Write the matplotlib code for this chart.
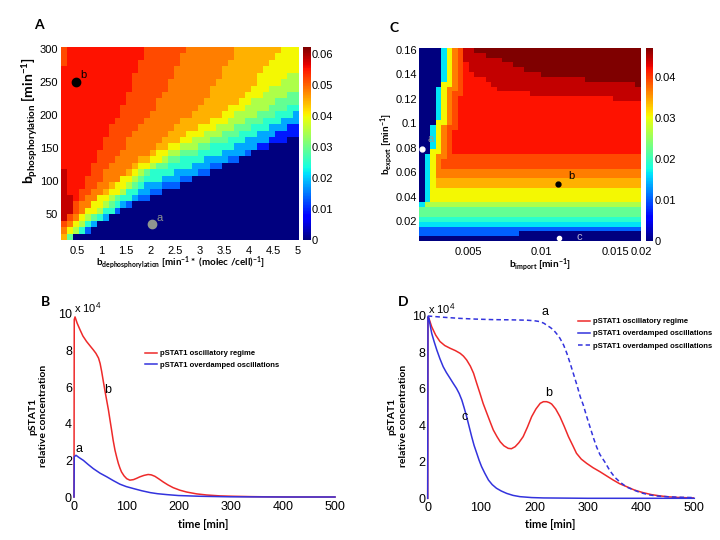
import numpy as np
import matplotlib
matplotlib.use('Agg')
import matplotlib.pyplot as plt

plt.rcParams['font.family'] = ['Liberation Sans', 'DejaVu Sans']
plt.rcParams['mathtext.fontset'] = 'custom'
plt.rcParams['mathtext.rm'] = 'Lato'
plt.rcParams['mathtext.bf'] = 'Lato:bold'
plt.rcParams['mathtext.it'] = 'Lato:italic'

# ---------------- data ----------------
# Heatmap cells are stored row by row (top row first) as run-length strings:
# each run = one level character followed by a two-digit count of cells.
A_LEVEL_VALUES = {'0': 0.0, '1': 0.005, '2': 0.0093, '3': 0.0136, '4': 0.018, '5': 0.0217,
                  '6': 0.0248, '7': 0.0291, '8': 0.0347, '9': 0.040, 'a': 0.0446, 'b': 0.048,
                  'c': 0.0515, 'd': 0.0552, 'e': 0.0583, 'f': 0.062}
A_ROWS = [
    'c01d13c07b08a08903', 'c01d13c06b09a07904', 'c01d12c07b08a07905',
    'd13c06b08a07906', 'd12c07b08a06905802', 'd12c06b08a07904803',
    'd12c06b07a07903805', 'd11c06b08a06903804702', 'd11c05b08a06902804704',
    'd10c06b07a05903804703602', 'd10c05b07a05902804703603401', 'd09c05b06a05903803703603403',
    'd08c05b06a04903803703603403202', 'd08c04b06a03903803703603403204',
    'd07c04b06a03902803703603404203002', 'd07c04b05a02902803702604404202005',
    'd06c04b05a01902802703604404301008', 'd06c03b04a02902801702604404302010',
    'd05c03b04a01902801702604403302013', 'e01d04c02b04a01901801701604404302015',
    'e01d03c03b03902801701603403302018', 'e01d03c02b02a01902801701601403303020',
    'e01d02c02b02a01902801602402302023', 'e02d01c01b02902801701602401302025',
    'e02c01b02902801701601401301028', 'e02c01b01902801602301030',
    'e01c01b01901801701601401032', 'c01b01901801601401034',
    'b01901801601301035', 'a01701038',
]
A_XTICKS = [0.5, 1, 1.5, 2, 2.5, 3, 3.5, 4, 4.5, 5]
A_XTICKLABELS = ['0.5', '1', '1.5', '2', '2.5', '3', '3.5', '4', '4.5', '5']
A_YTICKS = [50, 100, 150, 200, 250, 300]
A_CBTICKS = [0, 0.01, 0.02, 0.03, 0.04, 0.05, 0.06]
A_CBLABELS = ['0', '0.01', '0.02', '0.03', '0.04', '0.05', '0.06']
A_POINT_B = (0.48, 250)
A_POINT_A = (2.02, 35)

C_LEVEL_VALUES = {'0': 0.0, '1': 0.0038, '2': 0.0071, '3': 0.0104, '4': 0.0137, '5': 0.0165,
                  '6': 0.0188, '7': 0.0221, '8': 0.0264, '9': 0.0304, 'a': 0.0339, 'b': 0.0365,
                  'c': 0.0391, 'd': 0.0419, 'e': 0.0443, 'f': 0.0471}
C_ROWS = [
    '004501901b01c01e02f30', '004501901b01c01e04f28', '004501901b01c01e07f25',
    '004501901b01c01d01e08f23', '004501901b01c01d01e10f21', '004501901b01c01d02e12f18',
    '004501901b01c01d04e18f10', '004902b01c01d05e26f01', '003501901b02c01d06e26',
    '003501901b01c02d12e20', '003501901b01c01d28e05', '003501901b01c01d33',
    '003501901b01c01d33', '003501901b01c01d33', '003501901b01c01d33',
    '003902b01c01d33', '002501901b01c02d33', '002501901b01c01d34',
    '002501901b01c01d34', '002501901b01c01d34', '002501901b01c01d34',
    '002902b01c01d34', '001501901b02c35', '001501901b01c36',
    '001501901b01c36', '001501901b37', '001501901b37',
    '001501901a37', '001501901a37', '001501938',
    '001501938', '001501938', '501839',
    '740', '740', '640',
    '540', '340', '318022',
    '040',
]
C_XTICKS = [0.005, 0.01, 0.015, 0.01677]
C_XTICKLABELS = ['0.005', '0.01', '0.015', '0.02']
C_YTICKS = [0.02, 0.04, 0.06, 0.08, 0.1, 0.12, 0.14, 0.16]
C_YTICKLABELS = ['0.02', '0.04', '0.06', '0.08', '0.1', '0.12', '0.14', '0.16']
C_CBTICKS = [0, 0.01, 0.02, 0.03, 0.04]
C_CBLABELS = ['0', '0.01', '0.02', '0.03', '0.04']
C_POINT_A = (0.00185, 0.079)
C_POINT_B = (0.01112, 0.0503)
C_POINT_C = (0.01119, 0.0062)

# Panel B (time in min, pSTAT1 in units of 1e4)
b_red_t = [0, 0.5, 2, 6, 11.5, 17, 24, 31, 37, 42, 47, 50, 53, 56, 59, 62.5, 66, 69, 72, 75, 78.5, 82, 85,
           88, 91, 96, 101, 107, 114, 120, 126, 134, 142, 148, 155, 163, 171, 180, 190, 203, 216, 235, 254,
           280, 305, 340, 369, 420, 500]
b_red_y = [0, 9.7, 9.84, 9.5, 9.14, 8.8, 8.5, 8.25, 8.04, 7.85, 7.59, 7.3, 6.86, 6.35, 5.85, 5.3, 4.75, 4.2,
           3.66, 3.1, 2.56, 2.15, 1.83, 1.58, 1.37, 1.15, 1.0, 0.92, 0.95, 1.02, 1.1, 1.18, 1.23, 1.21, 1.13,
           0.98, 0.82, 0.66, 0.51, 0.37, 0.27, 0.17, 0.11, 0.06, 0.04, 0.02, 0.01, 0.0, 0.0]
b_blue_t = [0, 0.5, 3.8, 10, 18, 27, 37, 50, 63, 75, 88, 100, 114, 130, 146, 160, 178, 200, 241, 300, 400, 500]
b_blue_y = [0, 2.2, 2.28, 2.15, 2.0, 1.78, 1.55, 1.3, 1.1, 0.9, 0.7, 0.57, 0.46, 0.34, 0.24, 0.18, 0.13, 0.08,
            0.04, 0.01, 0.0, 0.0]

# Panel D
d_red_t = [0, 0.5, 2, 7.5, 15, 23, 32, 42, 52, 61, 67, 73, 80, 86, 92, 98, 104, 111, 117, 123, 130, 136, 143,
           151, 157, 164, 171, 179, 187, 195, 203, 211, 217, 223, 228, 232.5, 240, 248, 256, 264, 272, 279,
           288, 298, 310, 323, 336, 348, 360, 373, 388, 404, 420, 436, 452, 467, 498]
d_red_y = [0, 9.95, 9.9, 9.41, 8.95, 8.6, 8.38, 8.23, 8.1, 7.95, 7.8, 7.59, 7.25, 6.86, 6.3, 5.76, 5.2, 4.66,
           4.2, 3.75, 3.38, 3.1, 2.88, 2.74, 2.72, 2.83, 3.05, 3.38, 3.9, 4.48, 4.9, 5.21, 5.3, 5.3, 5.25,
           5.17, 4.9, 4.48, 3.95, 3.38, 2.9, 2.47, 2.15, 1.92, 1.68, 1.46, 1.22, 1.0, 0.8, 0.64, 0.45, 0.31,
           0.2, 0.13, 0.08, 0.05, 0.02]
d_blue_t = [0, 0.5, 2, 7.5, 12, 17, 23, 29, 35, 42, 48, 54, 59, 64, 68.5, 73, 78, 82.5, 87, 92, 96.5, 101,
            107, 114, 121, 129, 138, 148, 160, 173, 195, 217, 260, 300, 500]
d_blue_y = [0, 9.95, 9.9, 9.05, 8.6, 8.14, 7.65, 7.22, 6.9, 6.58, 6.3, 6.03, 5.75, 5.39, 4.95, 4.48, 3.9, 3.38,
            2.9, 2.47, 2.08, 1.74, 1.38, 1.0, 0.75, 0.55, 0.4, 0.27, 0.16, 0.09, 0.04, 0.02, 0.01, 0.0, 0.0]
d_dash_t = [0, 30, 60, 90, 123, 155, 186, 200, 211, 218, 223, 230, 236, 242, 248, 255, 261, 267, 273, 280,
            286, 292, 298, 304, 311, 317, 323, 332, 342, 351, 361, 373, 386, 400, 417, 432, 448, 470, 498]
d_dash_y = [10.0, 9.93, 9.87, 9.83, 9.8, 9.79, 9.77, 9.74, 9.69, 9.6, 9.5, 9.37, 9.23, 9.02, 8.78, 8.4, 7.95,
            7.42, 6.86, 6.2, 5.58, 5.1, 4.5, 3.95, 3.3, 2.8, 2.4, 2.0, 1.5, 1.15, 0.88, 0.62, 0.46, 0.3, 0.18,
            0.12, 0.09, 0.06, 0.04]
LINE_XTICKS = [0, 100, 200, 300, 400, 500]
LINE_YTICKS = [0, 2, 4, 6, 8, 10]
LEGEND_B = ['pSTAT1 oscillatory regime', 'pSTAT1 overdamped oscillations']
LEGEND_D = ['pSTAT1 oscillatory regime', 'pSTAT1 overdamped oscillations', 'pSTAT1 overdamped oscillations']


def decode(rows, values):
    grid = []
    for s in rows:
        cells = ''.join(s[k] * int(s[k + 1:k + 3]) for k in range(0, len(s), 3))
        grid.append([values[c] for c in cells])
    return np.array(grid)


gridA = decode(A_ROWS, A_LEVEL_VALUES)
gridC = decode(C_ROWS, C_LEVEL_VALUES)
A_VMAX = A_LEVEL_VALUES['f']
C_VMAX = C_LEVEL_VALUES['f']

W, H = 720, 540
def box(l, t, r, b):
    return [l / W, 1 - b / H, (r - l) / W, (b - t) / H]

fig = plt.figure(figsize=(7.2, 5.4), dpi=100)

# ---------------- Panel A ----------------
axA = fig.add_axes(box(61, 47, 299, 240))
imA = axA.imshow(gridA, cmap='jet', vmin=0, vmax=A_VMAX, aspect='auto',
                 extent=[0.174, 5.02, 10.6, 303], interpolation='nearest')
axA.set_xlim(0.174, 5.02); axA.set_ylim(10.6, 303)
axA.set_xticks(A_XTICKS); axA.set_xticklabels(A_XTICKLABELS)
axA.set_yticks(A_YTICKS)
axA.tick_params(length=0, labelsize=8, pad=2)
axA.tick_params(axis='x', pad=4)
for sp in axA.spines.values(): sp.set_visible(False)
axA.plot([A_POINT_B[0]], [A_POINT_B[1]], 'o', color='black', ms=6)
axA.text(A_POINT_B[0] + 0.08, A_POINT_B[1] + 6, 'b', fontsize=8, color='black')
axA.plot([A_POINT_A[0]], [A_POINT_A[1]], 'o', color='#8f968f', ms=6)
axA.text(A_POINT_A[0] + 0.1, A_POINT_A[1] + 5, 'a', fontsize=8, color='#8f968f')
caxA = fig.add_axes(box(303, 47.3, 310.7, 240))
cbA = fig.colorbar(imA, cax=caxA, ticks=A_CBTICKS)
cbA.ax.set_yticklabels(A_CBLABELS)
cbA.ax.tick_params(length=0, labelsize=8, pad=1)
cbA.outline.set_visible(False)
fig.text(39 / W, 1 - 25 / H, 'A', fontsize=10, fontweight='bold', family='Lato', ha='center', va='center')
fig.text(30 / W, 1 - 121 / H, r'$\mathbf{b_{phosphorylation}\ [min^{-1}]}$', fontsize=10,
         rotation=90, ha='center', va='center')
fig.text(180 / W, 1 - 263 / H, r'$\mathbf{b_{dephosphorylation}\ [min^{-1}*\ (molec\ /cell)^{-1}]}$',
         fontsize=7, ha='center', va='center')

# ---------------- Panel C ----------------
axC = fig.add_axes(box(419, 48, 641, 241))
imC = axC.imshow(gridC, cmap='jet', vmin=0, vmax=C_VMAX, aspect='auto',
                 extent=[0.001667, 0.01677, 0.0036, 0.1616], interpolation='nearest')
axC.set_xlim(0.001667, 0.01677); axC.set_ylim(0.0036, 0.1616)
axC.set_xticks(C_XTICKS); axC.set_xticklabels(C_XTICKLABELS)
axC.set_yticks(C_YTICKS); axC.set_yticklabels(C_YTICKLABELS)
axC.tick_params(length=0, labelsize=8, pad=1.5)
axC.tick_params(axis='x', pad=4)
for sp in axC.spines.values(): sp.set_visible(False)
axC.plot([C_POINT_A[0]], [C_POINT_A[1]], 'o', color='white', ms=3.5)
axC.text(C_POINT_A[0] + 0.0004, C_POINT_A[1] + 0.006, 'a', fontsize=8, color='#9a9a9a')
axC.plot([C_POINT_B[0]], [C_POINT_B[1]], 'o', color='black', ms=3.5)
axC.text(C_POINT_B[0] + 0.0007, C_POINT_B[1] + 0.004, 'b', fontsize=8, color='black')
axC.plot([C_POINT_C[0]], [C_POINT_C[1]], 'o', color='white', ms=3)
axC.text(C_POINT_C[0] + 0.0012, C_POINT_C[1] - 0.0017, 'c', fontsize=8, color='#b8b8d8')
caxC = fig.add_axes(box(646, 47.7, 653, 241))
cbC = fig.colorbar(imC, cax=caxC, ticks=C_CBTICKS)
cbC.ax.set_yticklabels(C_CBLABELS)
cbC.ax.tick_params(length=0, labelsize=8, pad=1)
cbC.outline.set_visible(False)
fig.text(394 / W, 1 - 28 / H, 'C', fontsize=10, fontweight='bold', family='Lato', ha='center', va='center')
fig.text(387 / W, 1 - 144 / H, r'$\mathbf{b_{export}\ [min^{-1}]}$', fontsize=7.2,
         rotation=90, ha='center', va='center')
fig.text(540 / W, 1 - 265 / H, r'$\mathbf{b_{import}\ [min^{-1}]}$', fontsize=7.2, ha='center', va='center')

# ---------------- Panels B and D ----------------
RED = '#ee2a2a'
BLUE = '#3333dd'

def style_line_axes(ax):
    ax.set_xlim(0, 500); ax.set_ylim(0, 10)
    ax.set_xticks(LINE_XTICKS)
    ax.set_yticks(LINE_YTICKS)
    ax.tick_params(length=0, labelsize=9, pad=1.5)
    ax.tick_params(axis='x', pad=3)
    for sp in ax.spines.values(): sp.set_visible(False)

axB = fig.add_axes(box(74, 314, 335, 497))
style_line_axes(axB)
lb1, = axB.plot(b_red_t, b_red_y, color=RED, lw=1.1, clip_on=False)
lb2, = axB.plot(b_blue_t, b_blue_y, color=BLUE, lw=1.1, clip_on=False)
axB.text(0.5, 10.35, r'x 10$^4$', fontsize=8, ha='left', va='center')
axB.text(65, 5.85, 'b', fontsize=9, ha='center', va='center')
axB.text(9.6, 2.6, 'a', fontsize=9, ha='center', va='center')
axB.legend([lb1, lb2], LEGEND_B,
           loc='upper left', bbox_to_anchor=(145 / W, 1 - 350 / H), bbox_transform=fig.transFigure,
           frameon=False, prop={'size': 5.5, 'weight': 'bold'}, handlelength=1.6, handletextpad=0.3,
           labelspacing=0.5, borderpad=0, borderaxespad=0)
fig.text(46 / W, 1 - 302 / H, 'B', fontsize=10, fontweight='bold', family='Lato', ha='center', va='center')
fig.text(33 / W, 1 - 416 / H, 'pSTAT1', fontsize=7.5, fontweight='bold', family='Lato',
         rotation=90, ha='center', va='center')
fig.text(43 / W, 1 - 416 / H, 'relative concentration', fontsize=7.5, fontweight='bold', family='Lato',
         rotation=90, ha='center', va='center')
fig.text(203 / W, 1 - 525 / H, 'time [min]', fontsize=8, fontweight='bold', family='Lato',
         ha='center', va='center')

axD = fig.add_axes(box(427.7, 316, 694.3, 498.3))
style_line_axes(axD)
ld1, = axD.plot(d_red_t, d_red_y, color=RED, lw=1.1, clip_on=False)
ld2, = axD.plot(d_blue_t, d_blue_y, color=BLUE, lw=1.1, clip_on=False)
ld3, = axD.plot(d_dash_t, d_dash_y, color=BLUE, lw=1.1, ls=(0, (3, 2)), clip_on=False)
axD.text(0.5, 10.38, r'x 10$^4$', fontsize=8, ha='left', va='center')
axD.text(220, 10.2, 'a', fontsize=9, ha='center', va='center')
axD.text(226.6, 5.78, 'b', fontsize=9, ha='center', va='center')
axD.text(70, 4.47, 'c', fontsize=9, ha='center', va='center')
axD.legend([ld1, ld2, ld3], LEGEND_D,
           loc='upper left', bbox_to_anchor=(578 / W, 1 - 318 / H), bbox_transform=fig.transFigure,
           frameon=False, prop={'size': 5.5, 'weight': 'bold'}, handlelength=1.6, handletextpad=0.3,
           labelspacing=0.62, borderpad=0, borderaxespad=0)
fig.text(403 / W, 1 - 302 / H, 'D', fontsize=10, fontweight='bold', family='Lato', ha='center', va='center')
fig.text(392 / W, 1 - 416 / H, 'pSTAT1', fontsize=7.5, fontweight='bold', family='Lato',
         rotation=90, ha='center', va='center')
fig.text(403 / W, 1 - 416 / H, 'relative concentration', fontsize=7.5, fontweight='bold', family='Lato',
         rotation=90, ha='center', va='center')
fig.text(550 / W, 1 - 525 / H, 'time [min]', fontsize=8, fontweight='bold', family='Lato',
         ha='center', va='center')

fig.savefig('out.png', dpi=100)
